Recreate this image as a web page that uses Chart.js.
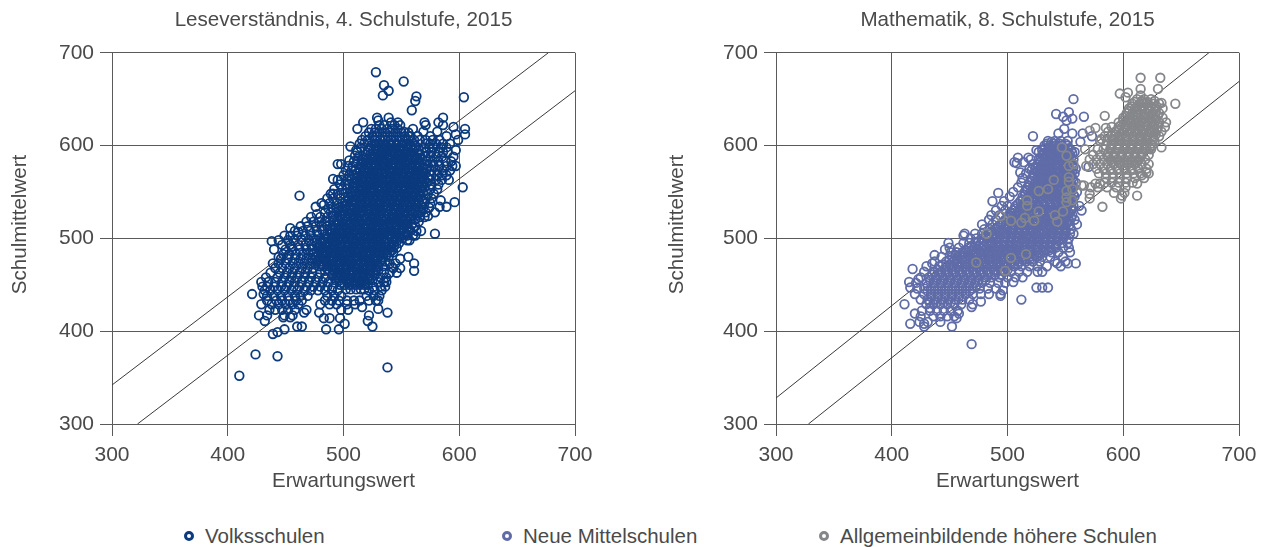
<!DOCTYPE html>
<html>
<head>
<meta charset="utf-8">
<title>Schulmittelwert und Erwartungswert</title>
<script src="https://cdn.jsdelivr.net/npm/chart.js@4"></script>
<style>
    html, body { margin: 0; padding: 0; background: #fff; }
    body { position: relative; width: 1266px; height: 547px; overflow: hidden; font-family: "Liberation Sans", sans-serif; }
    canvas { position: absolute; top: 0; }
    #chartLesen { left: 0; }
    #chartMathe { left: 664px; }
    .legend-item { position: absolute; top: 524px; font-size: 20.5px; line-height: 24px; color: #4a4a4a; white-space: nowrap; }
    .legend-ring { position: absolute; left: -21.5px; top: 7px; width: 4px; height: 4px; border-radius: 50%; border: 3px solid; }
</style>
</head>
<body>
<canvas id="chartLesen" width="633" height="500"></canvas>
<canvas id="chartMathe" width="602" height="500"></canvas>
<div id="legend"></div>
<script>
// Each row is [Schulmittelwert, Erwartungswert, Erwartungswert, ...].
// The solid middle of each cloud can't be read point by point, so those rows are estimates.
const volksRows = [
    [679,528],[669,552],[665,535],[659,539],[654,534],[653,563],[652,604],[648,562],[638,559],
    [630,529,539,586],[627,530],[625,517,547,541,570,582],[622,571,586,531,535,544,549],[620,595],
    [618,512,560,605,524,528,533,538,542,547],[615,552,569,581],[614,522,527,531,536,540,545,550,556],
    [612,597,605],[610,519,525,529,534,538,543,548,553,558,564,575,589],[606,516,521,527,532,536,541,546,551,556,561,566,571,577,583,599],
    [602,514,518,571,575,580,586,592],[599,506],[598,515,570,574,578,584,589],[595,511,597],[593,512,571,576,582,586,590],
    [589,510],[588,513,571,575,580,585,595],[584,505],[583,509,512,572,577,582,588,593],
    [580,495,498],[578,504,508,573,578,583,589,597,594],[573,502,507,510,576,581,586,592],[568,500,505,509,576,581,585,589],
    [564,491],[563,495,498,503,507,575,580,585,591],[558,497,502,505,576,582],[555,603],[553,492,499,503,575,581],
    [548,489,495,500,573,578,491],[546,462],[543,486,491,497,571,576],[541,584],[539,596],[538,481,488,494,499,570,575],
    [536,483],[534,476,589,583],[533,491,496,569,574],[532,487,494],[528,484,489,494,567,571,579],[526,477],[524,573],
    [523,472,480,486,491,566,570],[518,468,474,479,484,488,565],[513,463,469,476,481,486,562],[511,454],
    [508,458,465,471,477,482,558,563,567],[507,461],[505,579],[503,449,454,460,467,472,478,555,560,562],
    [498,444,452,457,464,470,475,480,555,557],[497,438],[493,447,454,461,467,472,477],[491,455],
    [488,450,456,462,468,473,440],[483,448,453,459,465,470,474],[480,444,556],[478,446,452,458,463,468,473,549],
    [473,439,444,450,456,461,466,471,476,540,545,561],[469,542],[468,441,447,453,458,464,469,474,543,549],[465,561],
    [463,437,445,451,456,462,467,473,480,535,540,546],[458,433,443,449,455,460,466,472,478,484,532,537],
    [453,429,435,441,447,453,458,464,470,476,482,487,530,535,537],[448,430,434,440,446,451,457,462,468,474,480,486,491,526,532,536],
    [444,432,437,443,449,455,460,466,472,478,484,490,495,522,527,533],[440,421,431],[438,434,440,446,452,458,463,469,486,492,498,520,526,531],
    [433,434,442,447,453,459,464,484,490,496,503,509,514,522,528,530],[429,429,438,444,450,456,461,480,488,494,503,510],[426,516],
    [424,530],[423,436,441,447,452,458,468,498,504],[420,466,479,538],[417,427,434,449,456,522],[415,448,454],
    [414,483,488,497],[411,432,521],[408,501],[405,460,464,525],[402,449,485,496],[399,443],[397,439],
    [375,424],[373,443],[361,538],[352,410],
    // dense core
    [600,524,528,533,537,541,546,550,554,558,562],[595,521,526,530,535,539,543,548,552,556,560,565],
    [590,519,523,527,532,536,540,544,549,553,557,561,566],[585,517,521,525,530,534,538,542,547,551,555,559,563,568],
    [580,515,519,524,528,532,536,541,545,549,553,557,562,566,570],[575,514,518,522,526,530,535,539,543,547,552,556,560,564,568,572],
    [570,512,516,520,524,529,533,537,541,546,550,554,558,562,566,571],[565,511,515,519,523,527,531,536,540,544,548,552,557,561,565,569,573],
    [560,510,514,518,522,526,530,534,539,543,547,551,555,560,564,568,572],[555,508,512,516,520,524,529,533,537,541,545,550,554,558,562,566,570],
    [550,506,510,514,519,523,527,531,535,540,544,548,552,556,560,565,569],[545,504,508,513,517,521,525,529,534,538,542,546,550,555,559,563,567],
    [540,502,507,511,515,519,523,528,532,536,540,544,549,553,557,561,565,568],[535,501,505,509,513,517,522,526,530,534,538,543,547,551,555,559,563,567],
    [530,499,503,507,512,516,520,524,528,532,537,541,545,549,553,558,562,566],[525,497,501,506,510,514,518,522,527,531,535,539,543,547,552,556,560,563],
    [520,495,499,503,508,512,516,520,525,529,533,537,541,546,550,554,558,562],[515,492,496,500,505,509,513,517,521,526,530,534,538,542,546,551,555,559],
    [510,489,493,498,502,506,510,514,519,523,527,531,535,540,544,548,552,557],[505,486,490,494,499,503,507,511,515,520,524,528,532,536,541,545,549,554],
    [500,483,487,491,496,500,504,508,512,517,521,525,529,533,538,542,546,551],[495,480,484,488,493,497,501,505,510,514,518,522,526,531,535,539,543,548],
    [490,478,482,486,490,495,499,503,507,511,516,520,524,528,532,537,541,546],[485,477,481,485,489,493,498,502,506,510,514,519,523,527,531,535,540,543],
    [480,476,480,484,488,492,497,501,505,509,513,518,522,526,530,534,539],[475,477,481,485,490,494,498,502,506,511,515,519,523,527,532,536],
    [470,479,483,487,492,496,500,504,509,513,517,521,525,530,534],[465,484,488,492,497,501,505,509,514,518,522,526,530],
    [460,490,494,498,502,506,511,515,519,523,527],[455,493,497,502,506,510,514,518,522,525],
    [450,497,501,505,510,514,518,521],[445,502,506,511,515,518],
    [602,527,531,536,541,546,552,557],[597,523,529,534,539,544,550,555,561],[592,521,526,532,537,543,548,553,559,564],
    [587,519,524,530,535,540,546,551,556,562,566],[582,517,522,527,533,538,544,549,555,560,565],[577,516,521,526,532,537,542,548,553,559,564,569],
    [572,514,519,525,530,536,541,547,552,557,563,568],[567,513,518,523,529,534,540,545,551,556,562,567],[562,512,517,522,528,533,538,544,549,555,560,566,570],
    [557,510,516,521,526,532,537,543,548,553,559,564,568],[552,508,514,519,525,530,536,541,546,552,557,563,567],[547,506,511,517,522,528,533,539,544,549,555,560,565],
    [542,504,510,515,521,526,532,537,542,548,553,559,564],[537,503,508,514,519,525,530,536,541,546,552,557,562],[532,501,506,512,517,523,528,534,539,544,550,555,561],
    [527,499,504,510,515,521,526,532,537,543,548,553,559],[522,497,502,508,513,519,524,530,535,540,546,551,557],[517,494,499,505,511,516,522,527,532,538,544,549,554],
    [512,491,496,502,507,513,518,524,529,535,540,545,551,555],[507,488,493,499,504,510,516,521,526,532,537,543,548,552],[502,485,491,496,502,507,513,518,524,529,534,540,545,549],
    [497,482,487,493,499,504,509,515,520,526,531,537,542,546],[492,480,486,491,497,502,508,513,519,524,529,535,540,544],[487,479,484,490,495,501,506,511,517,522,528,533,538,542],
    [482,478,483,489,494,499,505,510,516,521,527,532,537],[477,479,484,490,495,500,506,512,517,522,528,533],[472,481,486,491,497,502,507,513,518,524,529],
    [467,486,491,496,502,507,512,518,523,528],[462,491,496,501,507,512,517,522,526],[457,495,500,505,511,516,521],[452,499,504,509,515,519]
];

const mittelschuleRows = [
    [650,557],[636,553],[634,542],[631,548,566],[629,556],[627,551],[618,549],[613,544,556,565],[610,522,573],[604,538,563],
    [605,535,541,546,552],[600,532,537,542,547,552],[595,530,535,540,545,550,555,525],[593,527,558],
    [590,530,534,539,544,549,554],[587,518,509],[585,527,532,537,542,547,552,557,520],[582,506,514],[581,508],
    [580,526,531,536,541,546,551,556,522],[577,570],[575,524,529,534,539,544,549,554,559,519],[574,521],[571,511],
    [570,523,528,533,538,543,548,553,558,516],[565,521,526,531,536,541,546,551,556,513],
    [560,519,524,529,534,539,544,549,554,559,512],[555,517,522,527,532,537,542,547,552,557,509],
    [550,515,520,525,530,535,540,545,550,555,560,505],[549,492],[545,513,518,523,528,533,538,543,548,553,558,502],
    [540,511,516,521,526,531,536,541,546,551,556,487,497],[535,507,512,517,522,527,532,537,542,547,552,557,495,500,562],
    [530,505,510,515,520,525,530,535,540,545,550,555,490,498,564],[525,501,506,511,516,521,526,531,536,541,546,551,556,486,493],
    [520,498,503,508,513,518,523,528,533,538,543,548,553,558,484,490],[515,494,499,504,509,514,519,524,529,534,539,544,549,554,478,487,560],
    [510,490,495,500,505,510,515,520,525,530,535,540,545,550,555,480,485],[505,484,489,494,499,504,509,514,519,524,529,534,539,544,549,554,463,472,478,557],
    [503,462],[500,478,483,488,493,498,503,508,513,518,523,528,533,538,543,548,553,468,473],
    [495,472,477,482,487,492,497,502,507,512,517,522,527,532,537,542,547,552,449,462,467],[490,466,471,477,482,488,493,499,504,510,515,520,526,531,537,542,548,450,458,553],
    [488,446],[485,461,466,472,477,483,488,494,499,505,510,516,521,527,532,538,544,451,456,554],[482,437],
    [480,452,457,463,468,474,480,485,491,496,502,508,513,519,525,530,537,443,548],[475,447,453,458,464,470,475,481,487,492,498,504,510,516,522,528,437,541,550],
    [473,435,543,559,552],[470,441,447,453,458,464,470,476,482,488,494,500,506,512,519,526,430,534,546],[467,418],
    [464,437,443,449,455,461,467,473,479,485,491,497,503,510,517,428,526,530],[458,432,438,444,450,456,462,468,474,480,486,493,500,507,425,513],
    [456,423],[453,415,505],[452,430,436,442,448,454,460,466,472,478,485,492,498,421],[447,416,525,530,535],
    [446,428,434,440,446,452,458,464,470,476,483,490,422],[444,496],[440,428,434,440,446,452,458,464,470,477,420,484,494],
    [438,494],[434,431,437,443,449,455,461,467,512,425],[432,477],[429,411,430,436,442,448,454,460,470],
    [426,469],[425,433],[422,433,439,445,451,457,426],[419,420,458],[416,425,436,442,448,454],[414,456],[410,442,424,431],
    [408,416,428],[405,428,452],[386,469],
    // second pass over the dense band
    [602,534,540,545,550],[597,532,537,543,548,553],[592,531,536,541,547,552,556],[587,529,534,540,545,550,555],
    [582,528,533,538,544,549,554],[577,526,532,537,542,548,553,557],[572,525,530,536,541,546,552,556],[567,523,528,534,539,545,550,555],
    [562,521,527,532,537,543,548,553,557],[557,519,525,530,536,541,546,552,556],[552,517,523,528,534,539,544,550,555],[547,515,521,526,532,537,543,548,553,557],
    [542,513,518,524,529,535,540,546,551,556],[537,509,515,520,526,531,537,542,548,553],[532,506,512,518,523,529,534,540,545,551,556],[527,503,509,514,520,526,531,537,542,548,553],
    [522,500,505,511,517,522,528,534,539,545,550,555],[517,496,502,507,513,519,525,530,536,541,547,552],[512,492,498,504,510,515,521,527,533,538,544,549],[507,486,492,498,503,509,515,521,527,532,538,544,550],
    [502,481,486,491,497,503,509,515,520,526,532,538,544,549],[497,475,480,486,491,497,503,509,514,520,526,532,538,544],[492,469,475,480,486,491,497,503,508,514,520,526,531,537,542],[487,464,469,475,480,486,491,497,503,508,514,519,525,531,536],
    [482,455,460,466,471,477,483,488,494,500,505,511,517,523,528],[477,450,456,461,467,472,478,484,490,495,501,507,513,519],[472,444,450,456,461,467,473,479,485,491,497,503,509],[466,440,446,452,458,464,470,476,482,488,494,500],
    [461,435,441,447,453,459,465,471,477,483,489,495],[455,433,439,445,451,457,463,469,475,481],[449,431,437,443,449,455,461,467,473],[443,431,437,443,449,455,461,467],[437,434,440,446,452,458],[431,433,439,445,451]
];

const ahsRows = [
    [673,615,632],[661,615,630],[657,604],[656,597],[654,615],[652,602],[650,612,618,624],[648,616,627],[646,633],[645,645,608,614,620,626,631],
    [640,605,610,616,622,628,634],[635,603,608,613,619,625,631],[632,584],[630,600,605,611,617,622,628,634],[625,596,602,607,613,619,625,631,637],
    [620,590,596,602,608,614,620,625,630,636],[619,576,585],[616,571],[615,587,593,599,605,610,616,622,627,633],
    [610,584,590,596,602,608,614,620,626,631],[607,581],[605,580,586,592,598,604,610,616,621,627],[600,585,590,596,602,608,614,620,625],
    [598,633,547],[596,567,578,583,589,595,601,607,613,619,624],[590,574,580,586,592,598,604,610,616,622],[589,551],
    [585,571,577,583,589,595,601,607,613,619],[580,557,574,580,586,592,598,604,610,616,622],[578,553,568],
    [575,577,583,589,595,601,607,613,620],[571,620],[570,579,585,591,597,603,609,615,622],[568,616],[566,553],
    [565,585,591,597,603,610,618],[563,540],[561,553],[560,584,590,596,602,608],[559,576,580,612],[557,566,564],
    [555,572,578,586,594,602],[553,535,556],[551,527,551],[549,592,601],[548,571],[546,612,599],[544,551],[543,571,598],
    [541,517,556],[539,551],[535,517],[534,582],[529,527,548],[525,541],[524,494],[522,515],[519,503,523],[518,543],
    [517,512],[505,482],[483,516],[479,503],[474,473],[465,498],
    // second pass over the gray core
    [647,610,616,621],[642,607,612,618,624,629],[637,605,611,616,622,628],[632,602,608,613,619,625,630],[627,600,605,611,616,622,628],[622,598,604,610,615,621,627],
    [617,596,601,607,613,618,624,629],[612,593,599,605,611,617,622,628],[607,592,597,603,609,615,620,626],[602,590,596,601,607,613,619,624],[597,589,595,601,606,612,618,623],
    [592,587,593,599,605,610,616],[587,587,592,598,604,610,615],[582,590,596,601,607,612]
];

const legendLabels = ['Volksschulen', 'Neue Mittelschulen', 'Allgemeinbildende höhere Schulen'];
const legendColors = ['#0b3a7e', '#5f6ca8', '#85878a'];
const legendLefts = [205, 523, 840];

const lesenUpperLine = [[300, 342], [677, 700]];
const lesenLowerLine = [[322, 300], [700, 659]];
const matheUpperLine = [[300, 328], [674, 700]];
const matheLowerLine = [[328, 300], [700, 669]];

const axisTicks = [300, 400, 500, 600, 700];
const textColor = '#4a4a4a';

function toPoints(rows) {
    return rows.flatMap(([y, ...xs]) => xs.map(x => ({ x, y })));
}

function schoolDataset(label, rows, color) {
    return {
        label: label,
        data: toPoints(rows),
        showLine: false,
        pointRadius: 4.3,
        pointBorderWidth: 1.8,
        pointBackgroundColor: 'transparent',
        pointBorderColor: color
    };
}

function bandLine(line) {
    return {
        data: line.map(([x, y]) => ({ x, y })),
        showLine: true,
        borderColor: '#3a3a3a',
        borderWidth: 1,
        pointRadius: 0
    };
}

function axisOptions(isY) {
    return {
        min: axisTicks[0],
        max: axisTicks[axisTicks.length - 1],
        afterBuildTicks: scale => { scale.ticks = axisTicks.map(value => ({ value })); },
        afterFit: scale => {
            if (isY) scale.width = 112;
            else scale.height = 70;
        },
        grid: { color: '#5a5a5a', lineWidth: 1, tickLength: 12, tickColor: '#5a5a5a' },
        border: { color: '#5a5a5a', width: 1 },
        ticks: { color: textColor, font: { size: 21 }, padding: isY ? 6 : 7, maxRotation: 0 },
        title: {
            display: !isY,
            text: 'Erwartungswert',
            color: textColor,
            font: { size: 20.6 },
            padding: 0
        }
    };
}

// The y caption sits above the middle of the axis in the picture, so it is placed by hand
function yCaptionPlugin(x) {
    return {
        id: 'yCaption',
        afterDraw(chart) {
            const ctx = chart.ctx;
            ctx.save();
            ctx.translate(x, 224.5);
            ctx.rotate(-Math.PI / 2);
            ctx.textAlign = 'center';
            ctx.textBaseline = 'middle';
            ctx.fillStyle = textColor;
            ctx.font = '20.6px "Liberation Sans", sans-serif';
            ctx.fillText('Schulmittelwert', 0, 0);
            ctx.restore();
        }
    };
}

function initializeChart(canvasId, title, datasets, rightPadding, captionX) {
    const ctx = document.getElementById(canvasId).getContext('2d');
    return new Chart(ctx, {
        type: 'scatter',
        data: { datasets: datasets },
        plugins: [yCaptionPlugin(captionX)],
        options: {
            responsive: false,
            animation: false,
            events: [],
            layout: { padding: { right: rightPadding, bottom: 6 } },
            plugins: {
                legend: { display: false },
                tooltip: { enabled: false },
                title: {
                    display: true,
                    fullSize: false,
                    text: title,
                    color: textColor,
                    font: { size: 20.6, weight: 'normal' },
                    padding: { top: 8, bottom: 20 }
                }
            },
            scales: {
                x: axisOptions(false),
                y: axisOptions(true)
            }
        }
    });
}

Chart.defaults.font.family = '"Liberation Sans", sans-serif';

// Datasets listed first are painted last, so the band lines go to the end
initializeChart('chartLesen', 'Leseverständnis, 4. Schulstufe, 2015', [
    schoolDataset(legendLabels[0], volksRows, legendColors[0]),
    bandLine(lesenUpperLine),
    bandLine(lesenLowerLine)
], 58, 20);

initializeChart('chartMathe', 'Mathematik, 8. Schulstufe, 2015', [
    schoolDataset(legendLabels[2], ahsRows, legendColors[2]),
    schoolDataset(legendLabels[1], mittelschuleRows, legendColors[1]),
    bandLine(matheUpperLine),
    bandLine(matheLowerLine)
], 27, 13);

// Shared legend under both charts
const legend = document.getElementById('legend');
legendLabels.forEach((label, i) => {
    const item = document.createElement('div');
    item.className = 'legend-item';
    item.style.left = legendLefts[i] + 'px';
    item.textContent = label;
    const ring = document.createElement('span');
    ring.className = 'legend-ring';
    ring.style.borderColor = legendColors[i];
    item.appendChild(ring);
    legend.appendChild(item);
});
</script>
</body>
</html>
